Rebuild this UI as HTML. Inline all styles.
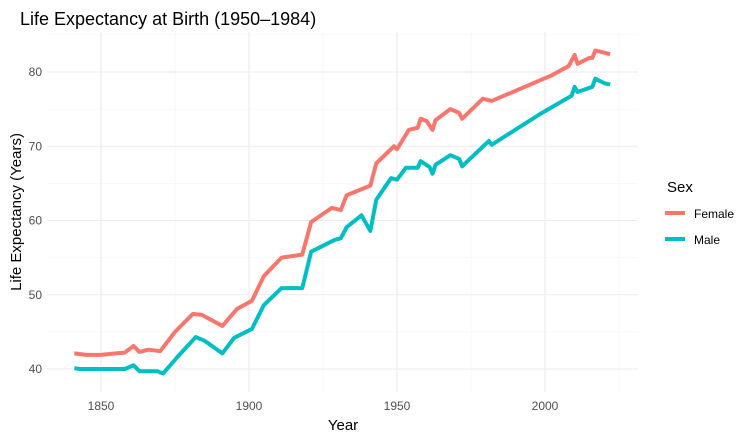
<!DOCTYPE html>
<html><head><meta charset="utf-8"><style>
body{margin:0;background:#fff;font-family:"Liberation Sans",sans-serif;}
svg{display:block}
</style></head><body>
<svg id="chart" width="754" height="440" viewBox="0 0 754 440">
<rect width="754" height="440" fill="#fff"/>
<text x="20" y="25" font-size="18" fill="#000">Life Expectancy at Birth (1950–1984)</text>
<g id="grid"></g>
<g id="lines"></g>
<g id="axes"></g>
<text x="343" y="430" font-size="15" text-anchor="middle" fill="#000">Year</text>
<text transform="translate(21,212) rotate(-90)" font-size="15" text-anchor="middle" fill="#000">Life Expectancy (Years)</text>
<g>
<text x="667" y="192" font-size="15" fill="#000">Sex</text>
<line x1="665" y1="213" x2="685" y2="213" stroke="#F8766D" stroke-width="4"/>
<text x="694" y="218" font-size="12" fill="#000">Female</text>
<line x1="665" y1="239" x2="685" y2="239" stroke="#00BFC4" stroke-width="4"/>
<text x="694" y="244" font-size="12" fill="#000">Male</text>
</g>
</svg>
<script>
const femaleYears=[1841,1845,1850,1855,1858,1861,1863,1866,1870,1875,1881,1884,1891,1896,1901,1905,1911,1918,1921,1928,1931,1933,1941,1943,1949,1950,1954,1957,1958,1960,1962,1963,1968,1971,1972,1979,1982,2002,2008,2010,2011,2015,2016,2017,2019,2022];
const femaleValues=[42.1,41.9,41.9,42.1,42.2,43.1,42.3,42.6,42.4,45.0,47.4,47.3,45.8,48.1,49.2,52.5,55.0,55.4,59.8,61.7,61.4,63.4,64.7,67.7,70.0,69.6,72.2,72.5,73.7,73.4,72.2,73.5,75.0,74.5,73.7,76.4,76.1,79.5,80.8,82.3,81.1,81.9,81.9,82.9,82.7,82.4];
const maleYears=[1841,1843,1858,1861,1863,1869,1871,1876,1882,1885,1891,1895,1901,1905,1911,1918,1921,1929,1931,1933,1938,1941,1943,1948,1950,1953,1957,1958,1961,1962,1963,1968,1971,1972,1981,1982,1999,2009,2010,2011,2016,2017,2020,2022];
const maleValues=[40.1,40.0,40.0,40.5,39.7,39.7,39.4,41.7,44.3,43.8,42.1,44.2,45.4,48.6,50.9,50.9,55.8,57.4,57.6,59.1,60.7,58.6,62.8,65.7,65.5,67.1,67.1,68.0,67.2,66.3,67.5,68.8,68.3,67.3,70.7,70.2,74.5,76.8,78.0,77.3,78.0,79.1,78.5,78.3];
const xTicks=[1850,1900,1950,2000];
const xMinor=[1875,1925,1975,2025];
const yTicks=[40,50,60,70,80];
const yMinor=[45,55,65,75,85];

const L=47,R=638,T=32,B=392;
const xs=y=>101+(y-1850)*2.96;
const ys=v=>369-(v-40)*7.425;
const NS="http://www.w3.org/2000/svg";
const grid=document.getElementById('grid'),axes=document.getElementById('axes'),lines=document.getElementById('lines');
function ln(g,x1,y1,x2,y2,c,w){const e=document.createElementNS(NS,'line');e.setAttribute('x1',x1);e.setAttribute('y1',y1);e.setAttribute('x2',x2);e.setAttribute('y2',y2);e.setAttribute('stroke',c);e.setAttribute('stroke-width',w);g.appendChild(e);return e;}
xMinor.forEach(v=>{const e=ln(grid,xs(v),T,xs(v),B,'#f2f2f2',0.6);

});
yMinor.forEach(v=>{const e=ln(grid,L,ys(v),R,ys(v),'#f2f2f2',0.6);

});
xTicks.forEach(v=>{const e=ln(grid,xs(v),T,xs(v),B,'#ebebeb',1.1);


const t=document.createElementNS(NS,'text');t.setAttribute('x',xs(v));t.setAttribute('y',410);t.setAttribute('font-size','12');t.setAttribute('fill','#4d4d4d');t.setAttribute('text-anchor','middle');t.textContent=v;


axes.appendChild(t);});
yTicks.forEach(v=>{const e=ln(grid,L,ys(v),R,ys(v),'#ebebeb',1.1);


const t=document.createElementNS(NS,'text');t.setAttribute('x',42);t.setAttribute('y',ys(v)+4);t.setAttribute('font-size','12');t.setAttribute('fill','#4d4d4d');t.setAttribute('text-anchor','end');t.textContent=v;


axes.appendChild(t);});
function series(yrs,vals,color,name){const p=document.createElementNS(NS,'polyline');
p.setAttribute('points',yrs.map((y,i)=>xs(y)+','+ys(vals[i])).join(' '));
p.setAttribute('fill','none');p.setAttribute('stroke',color);p.setAttribute('stroke-width','4');p.setAttribute('stroke-linejoin','round');


lines.appendChild(p);}
series(femaleYears,femaleValues,'#F8766D','female-line');
series(maleYears,maleValues,'#00BFC4','male-line');
</script>
</body></html>
